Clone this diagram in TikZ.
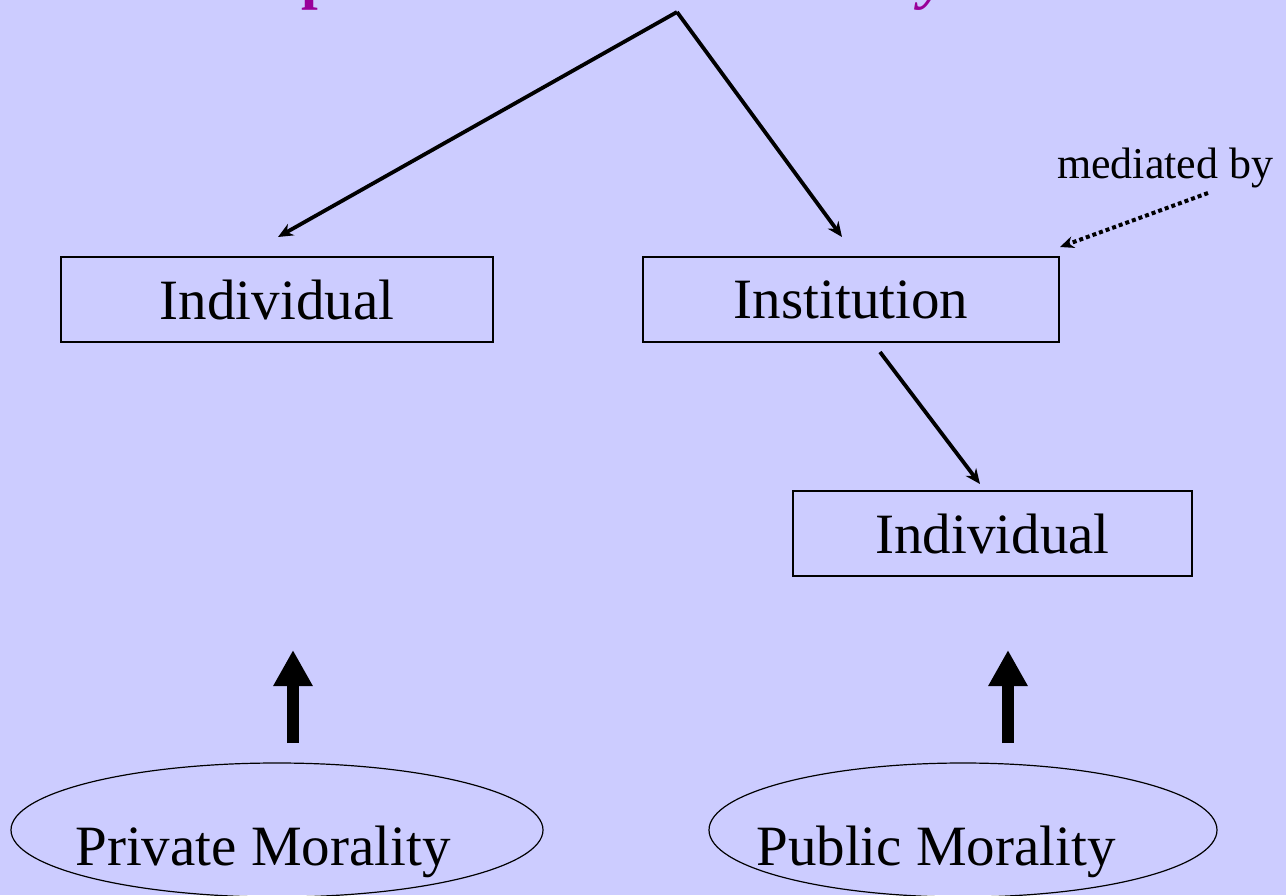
\documentclass[tikz,border=0pt]{standalone}
\usepackage{fontspec}
\setmainfont{Liberation Serif}
\usetikzlibrary{arrows.meta,shapes.geometric}
\definecolor{bg}{HTML}{CCCCFF}
\definecolor{titlepurple}{HTML}{990099}
\tikzset{
  box/.style={draw=black, line width=1.2pt, rectangle, inner sep=0pt, font=\fontsize{57}{60}\selectfont},
  oval/.style={draw=black, line width=1.2pt, ellipse, inner sep=0pt},
  bigtext/.style={font=\fontsize{57}{60}\selectfont, inner sep=0pt, anchor=base},
  link/.style={line width=3.8pt, -{Stealth[length=15pt,width=13pt]}},
  fat/.style={line width=12.5pt, -{Triangle[length=36pt,width=37pt]}},
  dotlink/.style={line width=4pt, dash pattern=on 4pt off 3pt, -{Stealth[length=14pt,width=12pt]}},
}
\begin{document}
\begin{tikzpicture}[x=1pt,y=-1pt]
\fill[bg] (0,0) rectangle (1286,895);
\useasboundingbox (0,0) rectangle (1286,895);
% cut-off title descenders
\node[text=titlepurple, font=\fontsize{60}{60}\selectfont\bfseries, anchor=base, inner sep=0pt] (tp) at (318,-3) {p};
\node[text=titlepurple, font=\fontsize{60}{60}\selectfont\bfseries\itshape, anchor=base, inner sep=0pt] (ty) at (934,-3) {y};
\coordinate (top) at (677,12);
% boxes
\node[box, minimum width=432pt, minimum height=85pt] (ind1) at (277,299.5) {Individual};
\node[box, minimum width=416pt, minimum height=85pt] (inst) at (851,299.5) {Institution};
\node[box, minimum width=399pt, minimum height=85pt] (ind2) at (992.5,533.5) {Individual};
% mediated by
\node[font=\fontsize{44}{48}\selectfont, inner sep=0pt, anchor=base west] (med) at (1057,178) {mediated by};
\coordinate (medstart) at (1208,193);
\coordinate (medend) at (1060,247);
% connectors
\coordinate (ind1in) at (278,237);
\coordinate (instin) at (842,237);
\coordinate (instout) at (880,352);
\coordinate (ind2in) at (980,484);
\draw[link] (top) -- (ind1in);
\draw[link] (top) -- (instin);
\draw[link] (instout) -- (ind2in);
\draw[dotlink] (medstart) -- (medend);
% ellipses
\node[oval, minimum width=532pt, minimum height=134pt] (priv) at (277,830) {};
\node[oval, minimum width=508pt, minimum height=134pt] (pub) at (963,830) {};
\node[bigtext] (privt) at (263,865) {Private Morality};
\node[bigtext] (pubt) at (936,865) {Public Morality};
% fat arrows
\coordinate (fa1) at (293,743);
\coordinate (fa1t) at (293,650);
\coordinate (fa2) at (1008,743);
\coordinate (fa2t) at (1008,650);
\draw[fat] (fa1) -- (fa1t);
\draw[fat] (fa2) -- (fa2t);
\end{tikzpicture}
\end{document}
